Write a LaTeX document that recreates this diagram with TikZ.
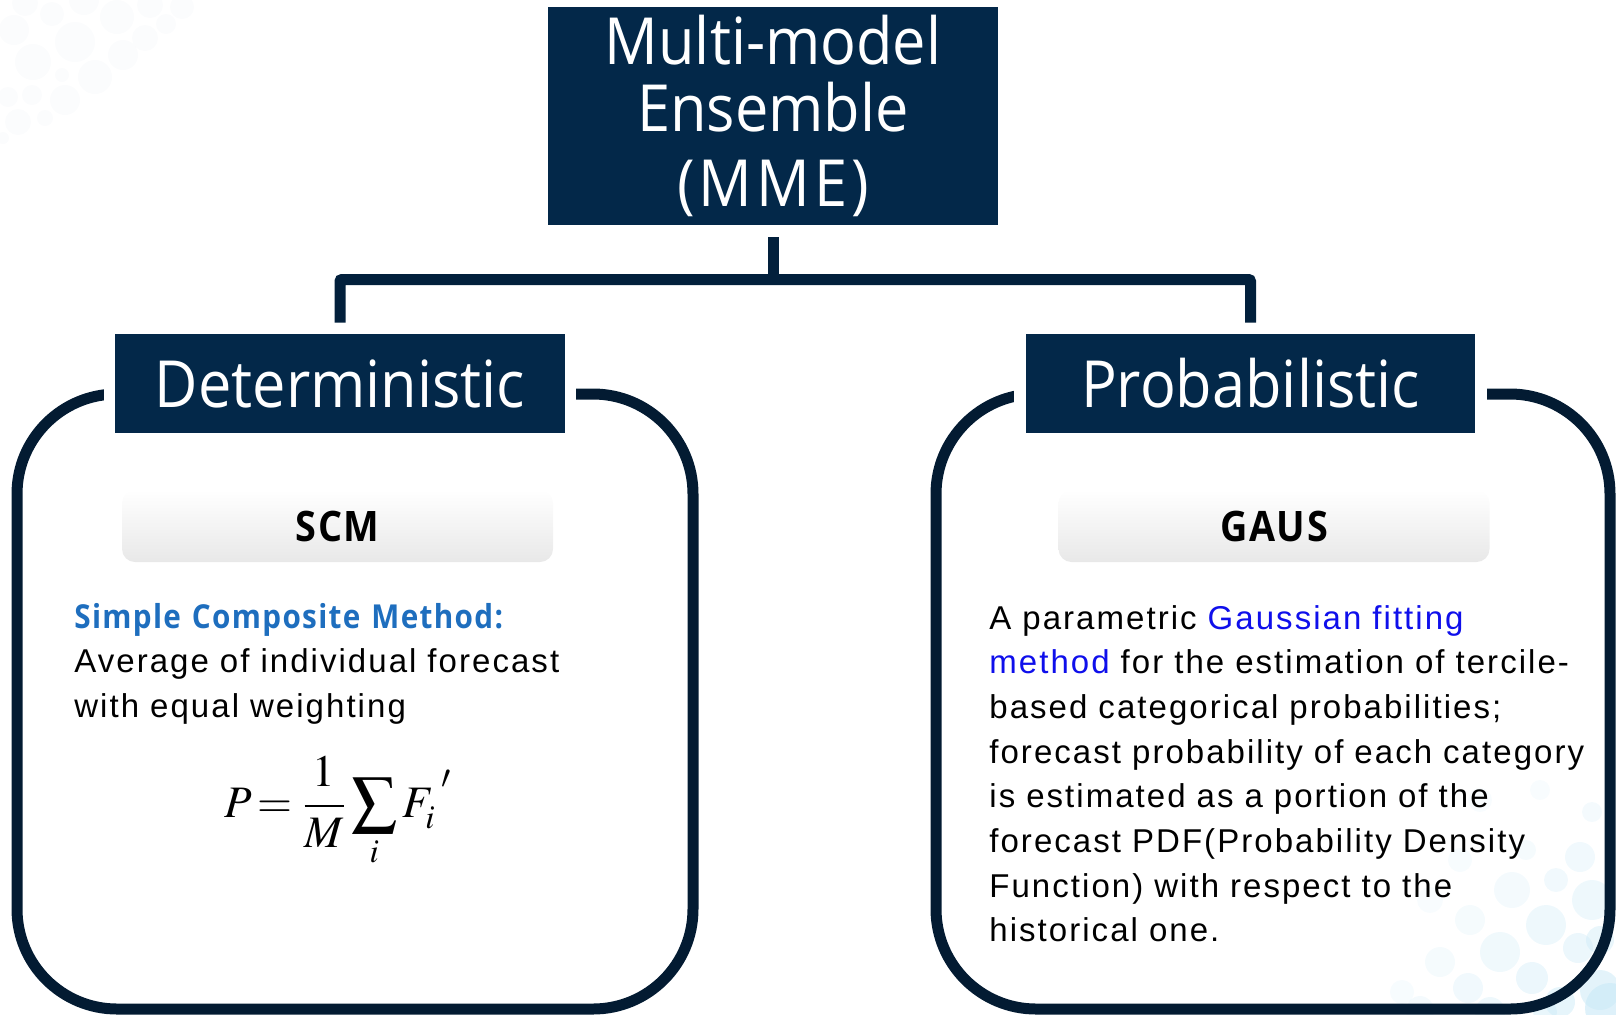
\documentclass[tikz,border=0pt]{standalone}
\usepackage{mathptmx}
\usepackage[no-math]{fontspec}
\newfontfamily\headfont[FakeStretch=0.915]{Open Sans}
\newfontfamily\tabfont[FakeStretch=0.9,LetterSpace=4]{Open Sans}
\newfontfamily\leadfont[FakeStretch=0.9,LetterSpace=4]{Open Sans}
\newfontfamily\bodyfont[LetterSpace=6.2]{Liberation Sans}

\definecolor{navy}{RGB}{3,40,73}
\definecolor{framec}{RGB}{3,27,50}
\definecolor{connc}{RGB}{2,32,60}
\definecolor{leadblue}{RGB}{30,110,190}
\definecolor{linkblue}{RGB}{15,15,235}
\definecolor{dotgrey}{RGB}{236,240,244}
\definecolor{dotblue}{RGB}{200,232,246}

\begin{document}
\begin{tikzpicture}[x=0.5pt,y=-0.5pt,
  hdr/.style={fill=navy, text=white, inner sep=0pt, align=center,
    font=\headfont\fontsize{32.5pt}{33.5pt}\selectfont},
  tab/.style={rounded corners=6.5pt, top color=white, bottom color=black!9,
    minimum width=215.5pt, minimum height=36pt, inner sep=0pt,
    font=\tabfont\bfseries\fontsize{21pt}{25pt}\selectfont},
  frame/.style={draw=framec, line width=5.5pt, rounded corners=50pt},
  conn/.style={draw=connc, line width=5.5pt, rounded corners=1pt},
  body/.style={anchor=base west, inner sep=0pt, align=left,
    font=\bodyfont\fontsize{16.5pt}{22.35pt}\selectfont},
  gap/.style={fill=white}
]
\useasboundingbox (0,0) rectangle (1616,1014);

% soft background dots
\foreach \cx/\cy/\r in {25/3/13, 52/14/12, 84/0/15, 117/17/17, 150/5/13, 182/7/12,
  14/30/15, 75/42/20, 145/38/13, 166/24/10, 33/62/18, 95/77/17, 123/55/15,
  62/75/7, 32/95/10, 65/100/15, 8/97/10, 18/122/13, 45/118/8, 3/138/6}
  \fill[dotgrey, opacity=0.22] (\cx,\cy) circle[radius=\r];
\foreach \cx/\cy/\r/\o in {1592/812/10/0.2, 1580/857/15/0.25, 1592/900/20/0.3,
  1512/890/18/0.2, 1546/925/20/0.3, 1578/948/15/0.35, 1470/920/15/0.18,
  1500/952/20/0.28, 1440/962/15/0.18, 1468/988/15/0.25, 1532/978/16/0.35,
  1402/992/12/0.15, 1556/880/12/0.25, 1526/850/10/0.18, 1600/990/20/0.5,
  1560/1002/15/0.45, 1610/1008/25/0.6, 1420/1010/14/0.2, 1490/1012/15/0.3,
  1545/1012/12/0.4, 1460/860/12/0.15, 1600/940/14/0.4, 1480/800/12/0.12,
  1540/790/10/0.12, 1430/900/13/0.12}
  \fill[dotblue, opacity=\o] (\cx,\cy) circle[radius=\r];

% rounded frames behind the two branches
\draw[frame] (17,394) rectangle (693,1009);
\draw[frame] (936,394) rectangle (1610,1009);

% top node and branch headers
\node[hdr, minimum width=225pt, minimum height=109pt] (mme) at (773,116)
  {Multi-model\\Ensemble\\[4pt]{\addfontfeature{LetterSpace=6}(MME)}};
\fill[gap] (104,370) rectangle (576,420);
\fill[gap] (1014,370) rectangle (1487,420);
\node[hdr, minimum width=225pt, minimum height=49.5pt] (det) at (340,383.5) {Deterministic};
\node[hdr, minimum width=224.5pt, minimum height=49.5pt] (prob) at (1250.5,383.5) {Probabilistic};

% tree connector
\coordinate (hub) at (773,279.5);
\draw[conn] ([yshift=5.5pt]det.north) |- (hub) -| ([yshift=5.5pt]prob.north);
\draw[conn] ([yshift=-6pt]mme.south) -- ([yshift=-2pt]hub);

% method tabs
\node[tab] (scm) at (337.5,526) {SCM};
\node[tab] (gaus) at (1274,526) {GAUS};

% descriptions
\node[body, text width=250pt] (scmtxt) at (74,628)
  {{\leadfont\bfseries\color{leadblue}Simple Composite Method:}\\
   Average of individual forecast\\
   with equal weighting};
\node[inner sep=0pt] (formula) at (338,812)
  {\fontsize{22.5pt}{27pt}\selectfont$\displaystyle P\!=\frac{1}{M}\sum_{i}F_{i}^{\raisebox{5pt}{$\scriptstyle\;\prime$}}$};
\node[body, text width=305pt] (gaustxt) at (989,629)
  {A parametric \textcolor{linkblue}{Gaussian fitting}\\
   \textcolor{linkblue}{method} for the estimation of tercile-\\
   based categorical probabilities;\\
   forecast probability of each category\\
   is estimated as a portion of the\\
   forecast PDF(Probability Density\\
   Function) with respect to the\\
   historical one.};
\end{tikzpicture}
\end{document}
